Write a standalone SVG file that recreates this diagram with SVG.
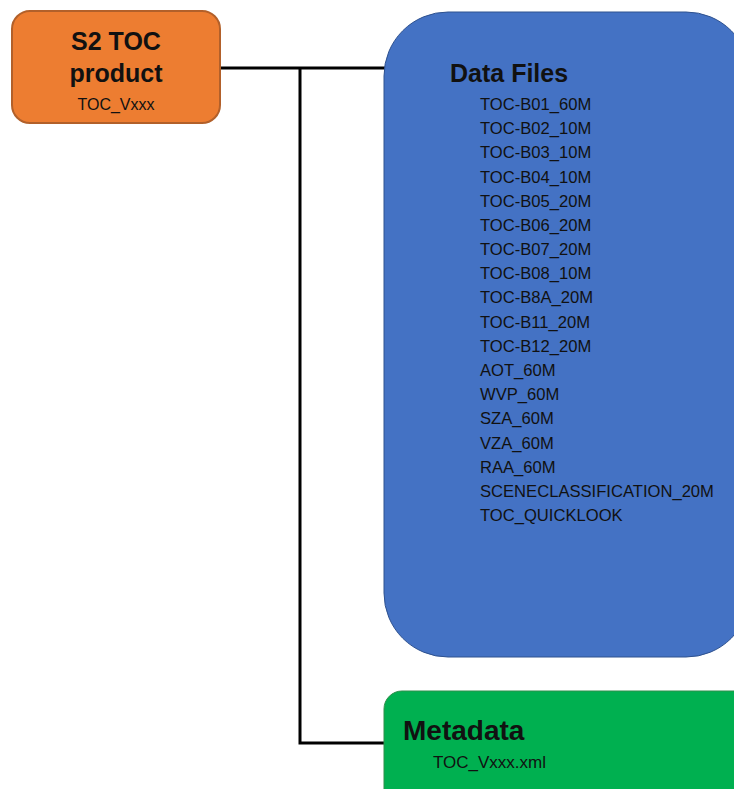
<svg xmlns="http://www.w3.org/2000/svg" width="734" height="789" viewBox="0 0 734 789">
<style>
.t{font-family:"Liberation Sans",Arial,sans-serif;fill:#111}
.b{font-weight:bold}
.item{font-size:16.6px}
.conn{stroke:#000;stroke-width:3;fill:none}
</style>
<rect width="734" height="789" fill="#fff"/>
<g id="connectors">
<polyline class="conn" points="220,68 385,68"/>
<polyline class="conn" points="300,68 300,743 385,743"/>
</g>
<g id="product">
<rect x="12" y="11" width="208" height="112" rx="18" fill="#ED7D31" stroke="#B2602A" stroke-width="2"/>
<text class="t b" x="116" y="50" font-size="25" text-anchor="middle">S2 TOC</text>
<text class="t b" x="116" y="82" font-size="25" text-anchor="middle">product</text>
<text class="t" x="116" y="110" font-size="16" text-anchor="middle">TOC_Vxxx</text>
</g>
<g id="datafiles">
<rect x="384" y="12" width="366" height="645" rx="64" fill="#4472C4" stroke="#2F528F" stroke-width="1"/>
<text class="t b" x="450" y="82" font-size="25">Data Files</text>
<text class="t item" x="480" y="110">TOC-B01_60M</text>
<text class="t item" x="480" y="134.2">TOC-B02_10M</text>
<text class="t item" x="480" y="158.4">TOC-B03_10M</text>
<text class="t item" x="480" y="182.5">TOC-B04_10M</text>
<text class="t item" x="480" y="206.7">TOC-B05_20M</text>
<text class="t item" x="480" y="230.9">TOC-B06_20M</text>
<text class="t item" x="480" y="255.1">TOC-B07_20M</text>
<text class="t item" x="480" y="279.3">TOC-B08_10M</text>
<text class="t item" x="480" y="303.4">TOC-B8A_20M</text>
<text class="t item" x="480" y="327.6">TOC-B11_20M</text>
<text class="t item" x="480" y="351.8">TOC-B12_20M</text>
<text class="t item" x="480" y="376">AOT_60M</text>
<text class="t item" x="480" y="400.2">WVP_60M</text>
<text class="t item" x="480" y="424.3">SZA_60M</text>
<text class="t item" x="480" y="448.5">VZA_60M</text>
<text class="t item" x="480" y="472.7">RAA_60M</text>
<text class="t item" x="480" y="496.9">SCENECLASSIFICATION_20M</text>
<text class="t item" x="480" y="521">TOC_QUICKLOOK</text>
</g>
<g id="metadata">
<rect x="384" y="691" width="370" height="120" rx="18" fill="#00B050" stroke="#2F8F4A" stroke-width="1"/>
<text class="t b" x="403" y="740" font-size="28">Metadata</text>
<text class="t" x="433" y="768" font-size="17">TOC_Vxxx.xml</text>
</g>
</svg>
